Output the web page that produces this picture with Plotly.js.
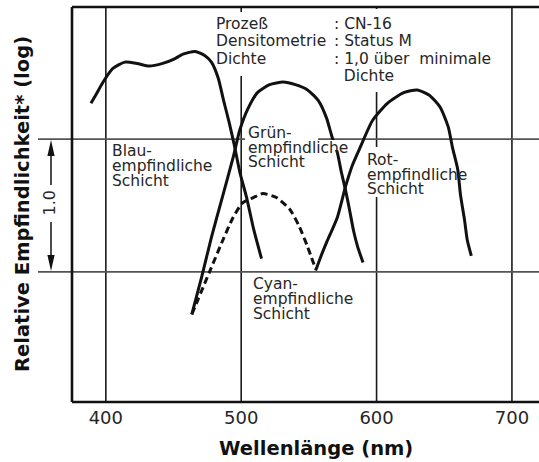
<!DOCTYPE html>
<html>
<head>
<meta charset="utf-8">
<script src="https://cdn.plot.ly/plotly-3.0.1.min.js"></script>
<style>html,body{margin:0;padding:0;background:#fff;}#chart{width:539px;height:462px;}</style>
</head>
<body>
<div id="chart"></div>
<script>
// ---- data (wavelength in nm, relative log sensitivity) ----
const blueX  = [389,393,398,405,414,423,432,442,450,457,466,473,478,483,487,491,495,499,504,509,515];
const blueY  = [1.27,1.34,1.43,1.53,1.58,1.57,1.55,1.57,1.60,1.64,1.66,1.63,1.58,1.46,1.29,1.13,0.95,0.75,0.56,0.33,0.10];
const greenX = [463.5,471,478,486,494,499,505,512,521,531,540,549,557,563,567,571,574,577,580,583,586,590];
const greenY = [-0.32,-0.03,0.26,0.56,0.86,1.07,1.23,1.35,1.41,1.43,1.41,1.37,1.29,1.16,1.02,0.90,0.75,0.62,0.47,0.31,0.19,0.07];
const cyanX  = [463.5,477,486.5,494,501,509,516,526,536,543,549,555];
const cyanY  = [-0.32,0.01,0.24,0.41,0.52,0.56,0.59,0.56,0.47,0.34,0.19,0.02];
const redX   = [555,559,563,571,577,582,588,597,608,620,630,639,647,653,656,660,662,665,667,670];
const redY   = [0.01,0.12,0.22,0.41,0.64,0.80,0.94,1.14,1.27,1.35,1.37,1.33,1.24,1.09,0.94,0.77,0.58,0.39,0.24,0.12];
const tickVals  = [400,500,600,700];
const tickText  = ['400','500','600','700'];
const levelY    = [0, 1];
const infoKeys  = ['Prozeß','Densitometrie','Dichte'];
const infoVals  = [': CN-16',': Status M',': 1,0 über\u00a0\u00a0minimale','\u00a0\u00a0Dichte'];
const blauLbl   = ['Blau-','empfindliche','Schicht'];
const gruenLbl  = ['Grün-','empfindliche','Schicht'];
const rotLbl    = ['Rot-','empfindliche','Schicht'];
const cyanLbl   = ['Cyan-','empfindliche','Schicht'];

// ---- layout helpers (pixel -> paper) ----
const L = 72, T = 7, W = 467, H = 395;
const px = v => (v - L) / W;
const py = v => (T + H - v) / H;

const ink = '#111';
const txt = '#262626';
const lineStyle = {color: ink, width: 3, shape: 'spline', smoothing: 0.6};

const traces = [
  {x: blueX,  y: blueY,  mode: 'lines', line: lineStyle, hoverinfo: 'skip'},
  {x: greenX, y: greenY, mode: 'lines', line: lineStyle, hoverinfo: 'skip'},
  {x: cyanX,  y: cyanY,  mode: 'lines', line: Object.assign({}, lineStyle, {dash: '7px,4px'}), hoverinfo: 'skip'},
  {x: redX,   y: redY,   mode: 'lines', line: lineStyle, hoverinfo: 'skip'}
];

const shapes = [];
// vertical grid lines
tickVals.forEach(v => shapes.push({type: 'line', layer: 'below', xref: 'x', yref: 'paper', x0: v, x1: v, y0: 0, y1: 1, line: {color: '#1a1a1a', width: 1.6}}));
// level lines (0 and 1.0)
levelY.forEach(v => shapes.push({type: 'line', layer: 'below', xref: 'paper', yref: 'y', x0: px(38), x1: 1, y0: v, y1: v, line: {color: '#555', width: 1.6}}));
// white masks behind text blocks
const mask = (x0, x1, y0, y1, layer) => shapes.push({type: 'rect', layer: layer || 'below', xref: 'paper', yref: 'paper',
  x0: px(x0), x1: px(x1), y0: py(y1), y1: py(y0), fillcolor: '#fff', line: {width: 0}});
mask(213, 470, 12, 76);
mask(340, 400, 9, 92);
mask(245, 318, 133, 145);
mask(366, 400, 147, 197);
mask(327, 343, 140, 150, 'above');
// frame: left, top, bottom
shapes.push({type: 'line', xref: 'paper', yref: 'paper', x0: 0, x1: 0, y0: 0, y1: 1, line: {color: ink, width: 2.6}});
shapes.push({type: 'line', xref: 'paper', yref: 'paper', x0: 0, x1: 1, y0: 1, y1: 1, line: {color: ink, width: 2.6}});
shapes.push({type: 'line', xref: 'paper', yref: 'paper', x0: 0, x1: 1, y0: 0, y1: 0, line: {color: ink, width: 2.6}});
// 1.0 arrows
const ax = px(51);
const pix = {xref: 'paper', yref: 'y', xsizemode: 'pixel', ysizemode: 'pixel', xanchor: ax};
shapes.push(Object.assign({type: 'path', yanchor: levelY[1], path: 'M0,-1 L-3.6,-17 L3.6,-17 Z', fillcolor: ink, line: {width: 0}}, pix));
shapes.push(Object.assign({type: 'line', yanchor: levelY[1], x0: 0, x1: 0, y0: -16, y1: -46, line: {color: ink, width: 1.5}}, pix));
shapes.push(Object.assign({type: 'path', yanchor: levelY[0], path: 'M0,1 L-3.6,17 L3.6,17 Z', fillcolor: ink, line: {width: 0}}, pix));
shapes.push(Object.assign({type: 'line', yanchor: levelY[0], x0: 0, x1: 0, y0: 16, y1: 50, line: {color: ink, width: 1.5}}, pix));

const ann = [];
const font = {family: 'DejaVu Sans', size: 15.5, color: txt};
const label = (text, x, y) => ann.push({text: text, xref: 'paper', yref: 'paper', x: px(x), y: py(y),
  xanchor: 'left', yanchor: 'middle', showarrow: false, font: font, borderpad: 0});
infoKeys.forEach((t, i) => label(t, 215, 24 + i * 17.3));
infoVals.forEach((t, i) => label(t, 333, 24 + i * 17.3));
blauLbl.forEach((t, i) => label(t, 111, 151 + i * 15));
gruenLbl.forEach((t, i) => label(t, 247, 133 + i * 14.5));
rotLbl.forEach((t, i) => label(t, 366, 160 + i * 14.7));
cyanLbl.forEach((t, i) => label(t, 252, 284 + i * 15.2));
ann.push({text: '1.0', xref: 'paper', yref: 'paper', x: px(49), y: py(203.5), textangle: -90,
  showarrow: false, xanchor: 'center', yanchor: 'middle', font: {family: 'DejaVu Sans', size: 16, color: txt}});
ann.push({text: 'Relative Empfindlichkeit* (log)', xref: 'paper', yref: 'paper', x: px(22), y: py(204), textangle: -90,
  showarrow: false, xanchor: 'center', yanchor: 'middle', font: {family: 'DejaVu Sans', size: 19.5, color: ink, weight: 'bold'}});
ann.push({text: 'Wellenlänge (nm)', xref: 'paper', yref: 'paper', x: px(316), y: py(448),
  showarrow: false, xanchor: 'center', yanchor: 'middle', font: {family: 'DejaVu Sans', size: 19.5, color: ink, weight: 'bold'}});

const layout = {
  width: 539, height: 462,
  margin: {l: L, r: 0, t: T, b: 462 - T - H, pad: 0},
  paper_bgcolor: '#fff', plot_bgcolor: '#fff',
  showlegend: false,
  xaxis: {range: [375, 720], tickvals: tickVals, ticktext: tickText, ticks: '', showgrid: false, zeroline: false,
          showline: false, ticklabelstandoff: 3, tickfont: {family: 'DejaVu Sans', size: 18, color: txt}, fixedrange: true},
  yaxis: {range: [-0.98, 1.995], showticklabels: false, ticks: '', showgrid: false, zeroline: false, showline: false, fixedrange: true},
  shapes: shapes,
  annotations: ann
};

Plotly.newPlot('chart', traces, layout, {displayModeBar: false, staticPlot: true});
</script>
</body>
</html>
